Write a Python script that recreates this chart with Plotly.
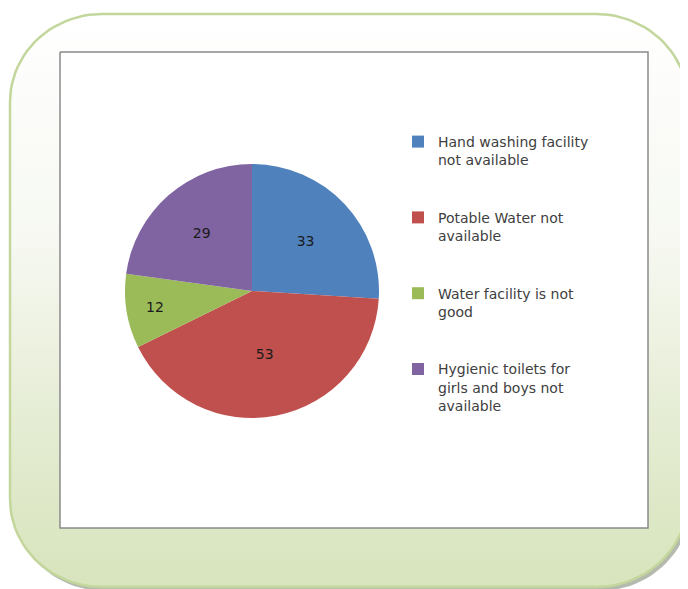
import numpy as np
import plotly.graph_objects as go

# ---- data ----
labels = [
    "Hand washing facility<br>not available<br> <br> ",
    "Potable Water not<br>available<br> <br> ",
    "Water facility is not<br>good<br> <br> ",
    "Hygienic toilets for<br>girls and boys not<br>available",
]
values = [33, 53, 12, 29]
colors = ["#4f81bd", "#c0504d", "#9bbb59", "#8064a2"]

# page body has an 8px margin: figure spans page pixels 8..688 / 8..589
OFF = 8
W, H = 688 - OFF, 589 - OFF


def rounded_rect(x0, y0, x1, y1, rx, ry, n=24):
    xs, ys = [], []
    corners = [
        (x1 - rx, y0 + ry, -90, 0),
        (x1 - rx, y1 - ry, 0, 90),
        (x0 + rx, y1 - ry, 90, 180),
        (x0 + rx, y0 + ry, 180, 270),
    ]
    for cx, cy, a0, a1 in corners:
        t = np.radians(np.linspace(a0, a1, n))
        xs.extend(cx + rx * np.cos(t))
        ys.extend(cy + ry * np.sin(t))
    xs.append(xs[0])
    ys.append(ys[0])
    return xs, ys


fig = go.Figure()

# shadow
sx, sy = rounded_rect(13, 17, 691, 591, 92, 88)
fig.add_trace(go.Scatter(x=sx, y=sy, fill="toself", mode="lines",
                         line=dict(width=0), fillcolor="rgba(120,130,110,0.55)",
                         hoverinfo="skip", showlegend=False))
# outer rounded panel with gradient
ox, oy = rounded_rect(10, 14, 688, 587, 92, 88)
fig.add_trace(go.Scatter(x=ox, y=oy, fill="toself", mode="lines",
                         line=dict(width=2.5, color="#c3d69b"),
                         fillgradient=dict(type="vertical", start=14, stop=587,
                                           colorscale=[[0, "#ffffff"], [0.4, "#f6f8f1"],
                                                       [0.75, "#e3ebd0"], [1, "#d7e4bc"]]),
                         hoverinfo="skip", showlegend=False))
# inner white chart area
fig.add_trace(go.Scatter(x=[60, 648, 648, 60, 60], y=[52, 52, 528, 528, 52],
                         fill="toself", mode="lines", fillcolor="#ffffff",
                         line=dict(width=1.5, color="#8a8a8a"),
                         hoverinfo="skip", showlegend=False))

# pie
cx, cy, r = 252, 291, 127
fig.add_trace(go.Pie(
    labels=labels, values=values, sort=False, direction="clockwise", rotation=0,
    marker=dict(colors=colors, line=dict(width=0)),
    textinfo="value", textposition="inside", insidetextorientation="horizontal",
    textfont=dict(family="DejaVu Sans", size=14, color="#1a1a1a"),
    domain=dict(x=[(cx - r - OFF) / W, (cx + r - OFF) / W],
                y=[1 - (cy + r - OFF) / H, 1 - (cy - r - OFF) / H]),
    hoverinfo="label+value", showlegend=True,
))

fig.update_layout(
    width=W, height=H, margin=dict(l=0, r=0, t=0, b=0),
    paper_bgcolor="#ffffff", plot_bgcolor="rgba(0,0,0,0)",
    xaxis=dict(range=[OFF, 688], visible=False, fixedrange=True),
    yaxis=dict(range=[589, OFF], visible=False, fixedrange=True),
    showlegend=True,
    legend=dict(x=(398 - OFF) / W, y=1 - (126 - OFF) / H, xanchor="left", yanchor="top",
                font=dict(family="DejaVu Sans", size=14, color="#404040"),
                bgcolor="rgba(0,0,0,0)", itemwidth=30, valign="top",
                tracegroupgap=0),
)

fig.write_html("out.html")
